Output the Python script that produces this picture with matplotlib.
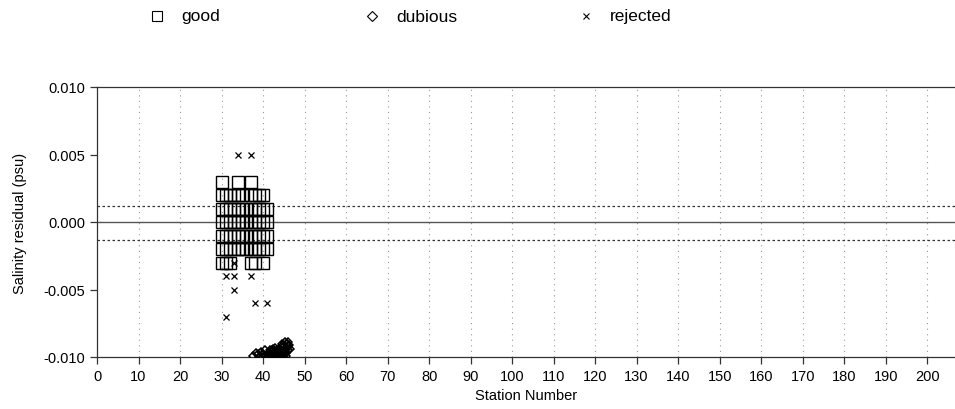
import numpy as np
import matplotlib
matplotlib.use('Agg')
import matplotlib.pyplot as plt
from matplotlib.lines import Line2D
from matplotlib.ticker import FuncFormatter, MultipleLocator

plt.rcParams['font.family'] = ['Liberation Sans', 'DejaVu Sans']

# good points: one list of stations per residual row
good_rows = {
    0.003: [30, 34, 37],
    0.002: [30, 31, 32, 33, 34, 35, 37, 38, 39, 40],
    0.001: [30, 31, 32, 33, 34, 35, 36, 37, 38, 39, 40, 41],
    0.000: [30, 31, 32, 33, 34, 35, 36, 37, 38, 39, 40, 41],
    -0.001: [30, 31, 32, 33, 34, 35, 36, 37, 38, 39, 40, 41],
    -0.002: [30, 31, 32, 33, 34, 35, 36, 37, 38, 39, 40, 41],
    -0.003: [30, 31, 32, 37, 38, 40],
}

rej_station = [34, 37, 33, 31, 33, 37, 33, 38, 41, 31]
rej_resid = [0.005, 0.005, -0.003, -0.004, -0.004, -0.004, -0.005, -0.006, -0.006, -0.007]

dub_station = [37.6, 38.4, 39.0, 39.5, 40.0, 40.4, 40.8, 39.8, 38.9,
               41.2, 41.5, 41.8, 42.1, 42.4, 42.7, 43.0, 43.3, 43.6, 43.9,
               44.2, 44.5, 44.8, 45.1, 45.4, 45.7, 46.0, 46.3,
               41.6, 42.0, 42.5, 42.9, 43.4, 43.8, 44.3, 44.7, 45.2, 45.6, 46.1,
               41.9, 42.3, 42.8, 43.2, 43.7, 44.1, 44.6, 45.0, 45.5, 45.9,
               42.6, 43.1, 43.5, 44.0, 44.4, 44.9, 45.3, 45.8,
               41.4, 42.2, 43.0, 43.9, 44.8, 45.6, 46.4, 44.5, 45.2]
dub_resid = [-0.0099, -0.0097, -0.0100, -0.0096, -0.0098, -0.0095, -0.0099, -0.0100, -0.0098,
             -0.0100, -0.0097, -0.0099, -0.0096, -0.0100, -0.0097, -0.0099, -0.0095, -0.0098, -0.0094,
             -0.0097, -0.0093, -0.0096, -0.0092, -0.0095, -0.0090, -0.0092, -0.0091,
             -0.0095, -0.0098, -0.0094, -0.0100, -0.0096, -0.0099, -0.0095, -0.0099, -0.0094, -0.0097, -0.0089,
             -0.0100, -0.0099, -0.0096, -0.0100, -0.0097, -0.0100, -0.0096, -0.0098, -0.0093, -0.0095,
             -0.0100, -0.0098, -0.0100, -0.0099, -0.0100, -0.0091, -0.0097, -0.0093,
             -0.0098, -0.0095, -0.0093, -0.0100, -0.0100, -0.0099, -0.0094, -0.0090, -0.0089]

upper_limit = 0.0012
lower_limit = -0.0013

good_station = [s for r, ss in good_rows.items() for s in ss]
good_resid = [r for r, ss in good_rows.items() for s in ss]

fig = plt.figure(figsize=(9.55, 4.10), dpi=100)
ax = fig.add_axes([97 / 955, 52 / 410, 1 - 97 / 955, 270 / 410])

for x in range(10, 201, 10):
    ax.axvline(x, color='#999999', linestyle=(0, (1, 4)), linewidth=0.8, zorder=0)
ax.axhline(0, color='#555555', linewidth=1.0, zorder=1)
ax.axhline(upper_limit, color='#333333', linestyle=(0, (2, 2)), linewidth=0.9, zorder=1)
ax.axhline(lower_limit, color='#333333', linestyle=(0, (2, 2)), linewidth=0.9, zorder=1)

ax.plot(good_station, good_resid, linestyle='none', marker='s', markersize=8,
        markerfacecolor='none', markeredgecolor='black', markeredgewidth=1.0, zorder=3)
ax.plot(dub_station, dub_resid, linestyle='none', marker='D', markersize=3.8,
        markerfacecolor='none', markeredgecolor='black', markeredgewidth=1.1, zorder=3)
ax.plot(rej_station, rej_resid, linestyle='none', marker='x', markersize=5,
        color='black', markeredgewidth=0.9, zorder=4)

ax.set_xlim(0, 206.7)
ax.set_ylim(-0.010, 0.010)
ax.xaxis.set_major_locator(MultipleLocator(10))
ax.yaxis.set_major_locator(MultipleLocator(0.005))
ax.yaxis.set_major_formatter(FuncFormatter(lambda v, p: f"{v:.3f}".replace('\u2212', '-')))
ax.tick_params(direction='out', length=5, width=0.9, labelsize=10.5, color='#333333')
ax.spines['right'].set_visible(False)
for s in ['left', 'bottom', 'top']:
    ax.spines[s].set_color('#333333')
    ax.spines[s].set_linewidth(0.9)
ax.set_xlabel('Station Number', fontsize=10.5, labelpad=4)
ax.set_ylabel('Salinity residual (psu)', fontsize=10.5, labelpad=12)

# legend row at the top
legend_items = [('s', 'good', 157), ('D', 'dubious', 372), ('x', 'rejected', 586)]
for mk, label, px in legend_items:
    ms = {'s': 7, 'D': 5, 'x': 5}[mk]
    fig.add_artist(Line2D([px / 955], [1 - 17 / 410], transform=fig.transFigure,
                          marker=mk, markersize=ms, markerfacecolor='none',
                          markeredgecolor='black', markeredgewidth=0.8, linestyle='none'))
    fig.text((px + 24) / 955, 1 - 17 / 410, label, fontsize=12.5, va='center', ha='left')

fig.savefig('out.png', dpi=100)
